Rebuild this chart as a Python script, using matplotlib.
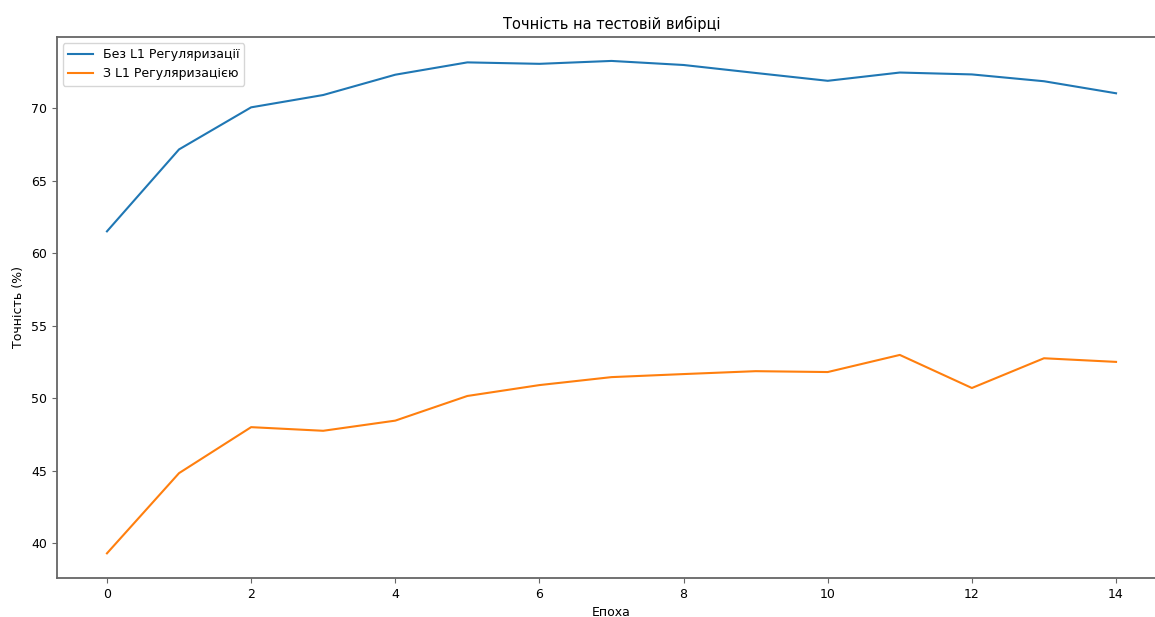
import matplotlib.pyplot as plt

epochs = list(range(15))
acc_no_l1 = [61.5, 67.15, 70.05, 70.9, 72.3, 73.15, 73.05, 73.25, 72.97, 72.42, 71.88, 72.45, 72.32, 71.85, 71.02]
acc_l1 = [39.3, 44.83, 48.0, 47.75, 48.45, 50.15, 50.9, 51.45, 51.66, 51.86, 51.8, 52.98, 50.7, 52.75, 52.5]

plt.rcParams['font.size'] = 9

fig = plt.figure(figsize=(11.55, 6.17), dpi=100)
# axes extends slightly past the right edge, like the cropped reference
ax = fig.add_axes([56.5 / 1155, 39 / 617, 1110 / 1155, 541 / 617])

ax.plot(epochs, acc_no_l1, label='Без L1 Регуляризації', color='#1f77b4', linewidth=1.5)
ax.plot(epochs, acc_l1, label='З L1 Регуляризацією', color='#ff7f0e', linewidth=1.5)

ax.set_title('Точність на тестовій вибірці', fontsize=10.5)
ax.set_xlabel('Епоха')
ax.set_ylabel('Точність (%)')
ax.set_xticks(range(0, 15, 2))
ax.set_ylim(37.6, 74.9)
ax.legend(loc='upper left')

for s in ax.spines.values():
    s.set_color('#666666')
    s.set_linewidth(1.3)
ax.spines['right'].set_visible(False)
ax.tick_params(color='#666666')

fig.savefig('out.png', dpi=100)
